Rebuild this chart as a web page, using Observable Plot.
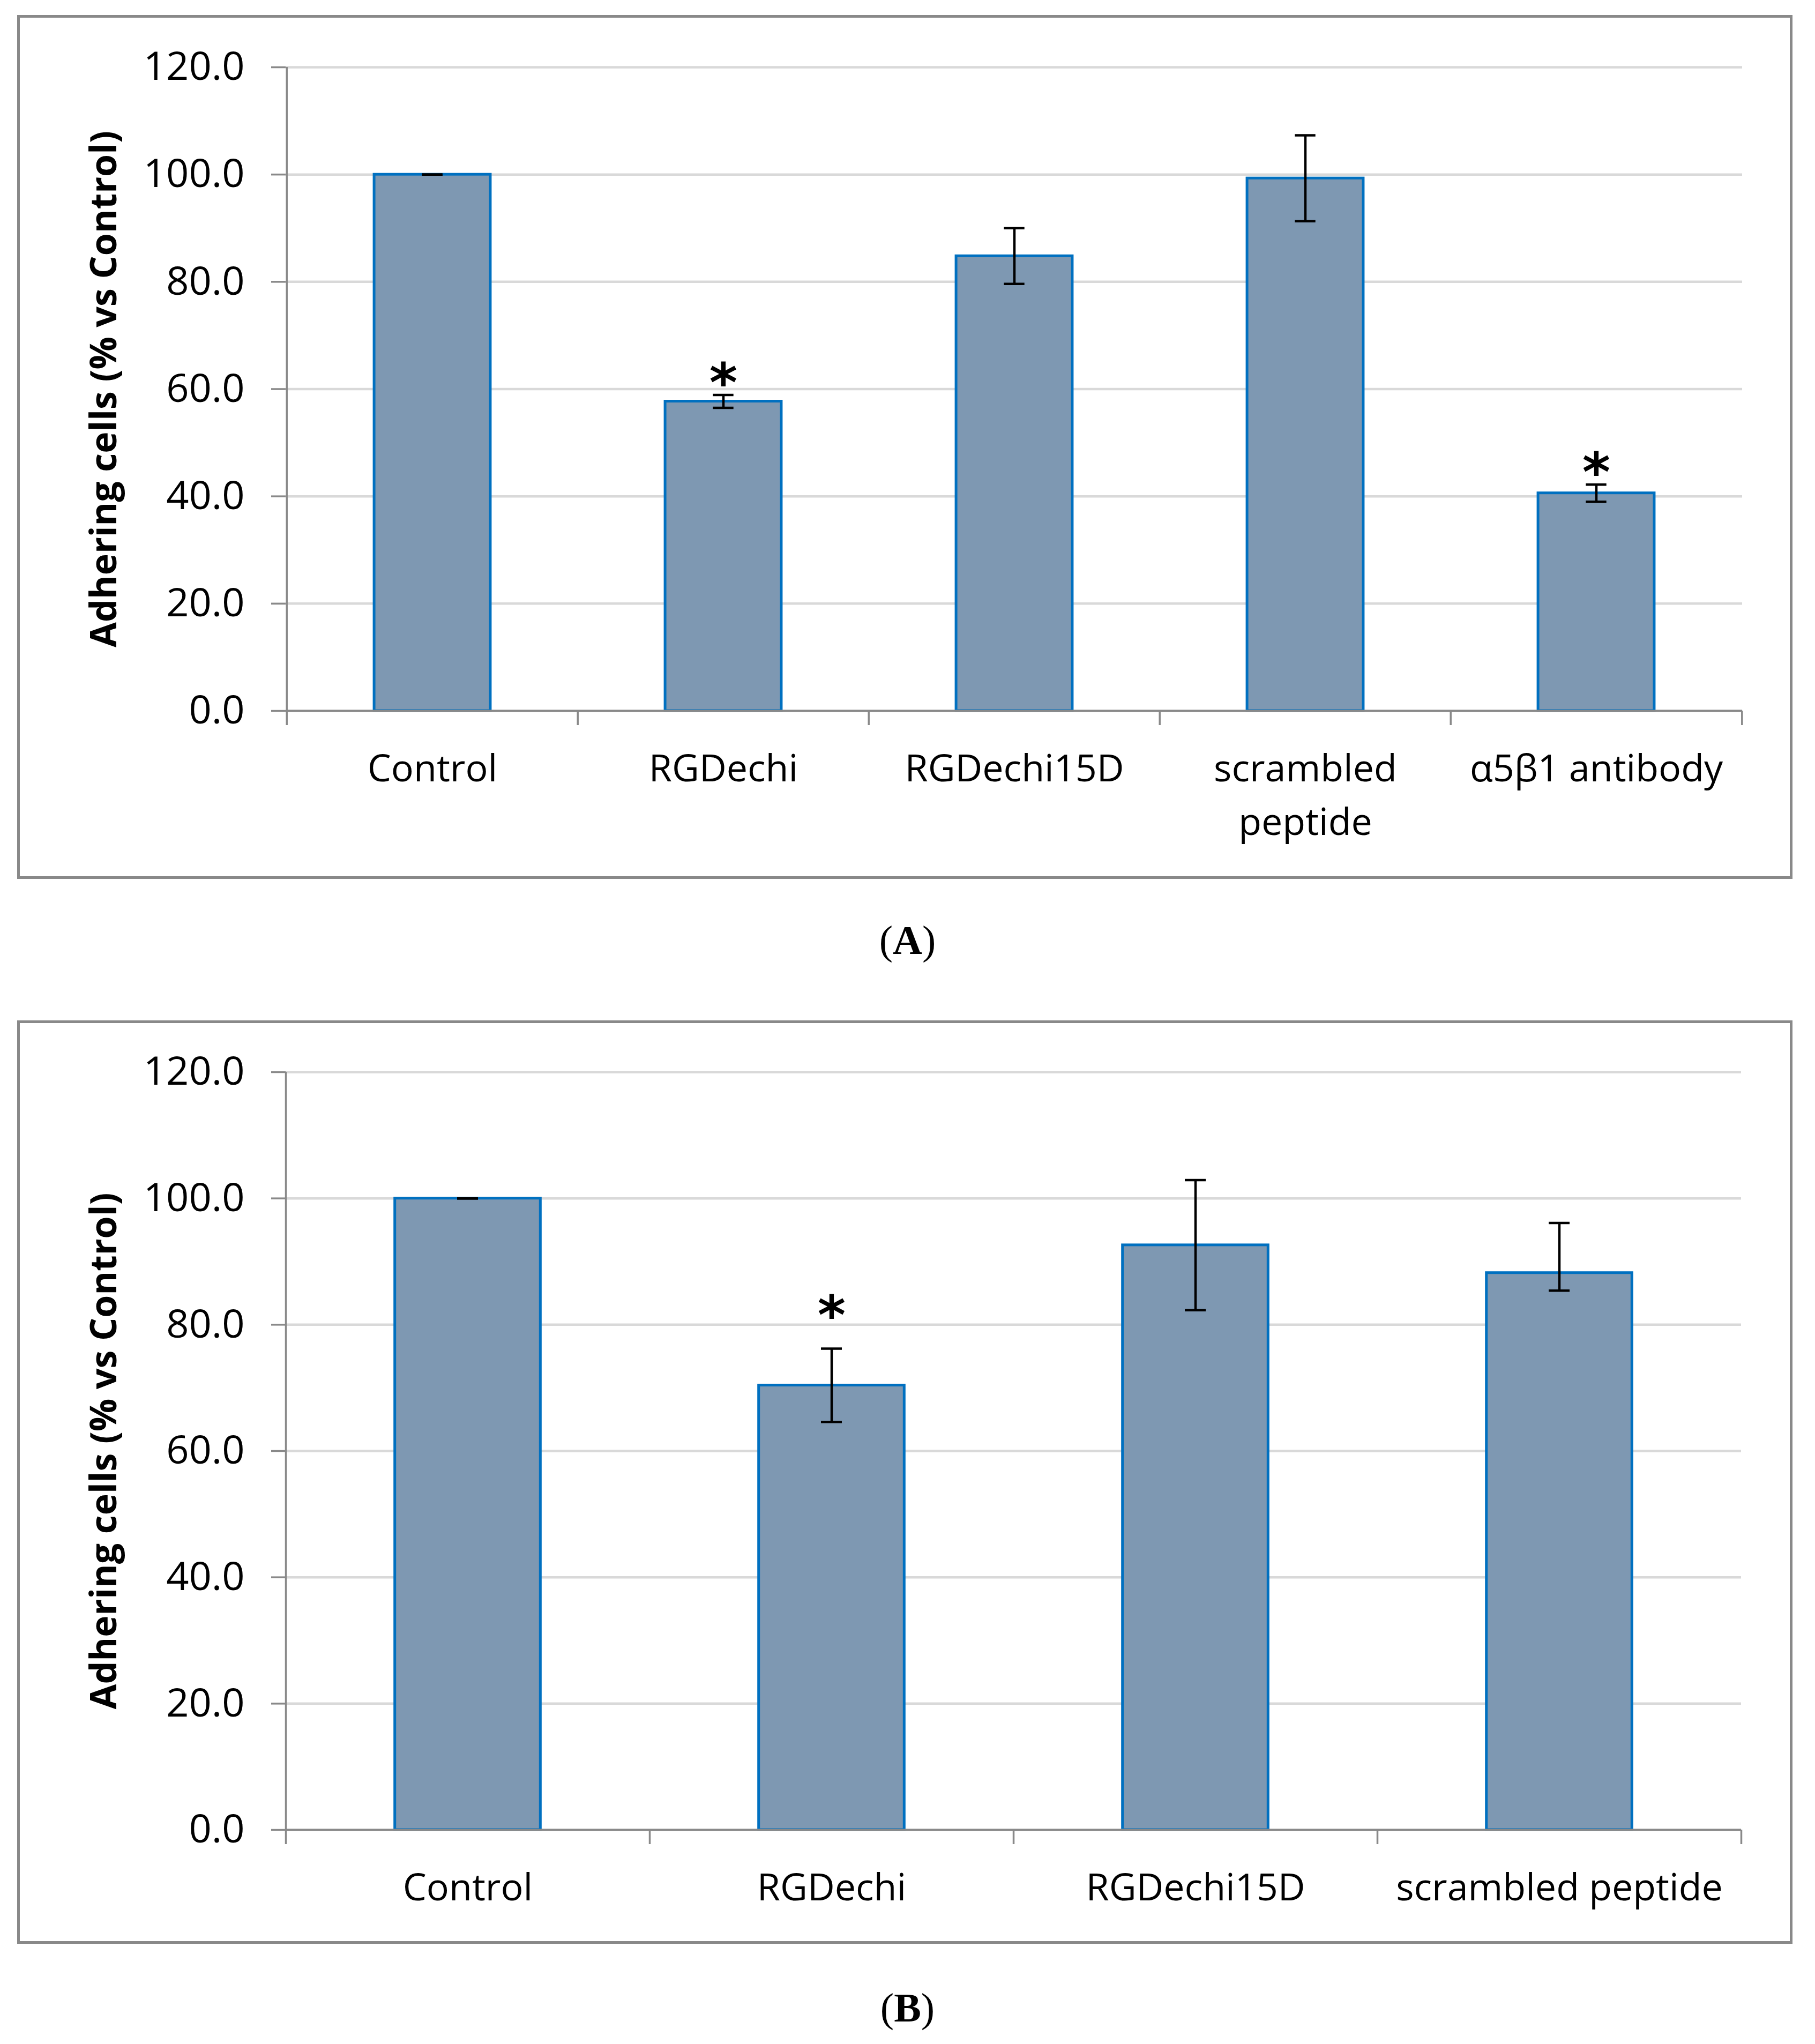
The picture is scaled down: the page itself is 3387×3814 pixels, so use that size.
<!DOCTYPE html>
<html>
<head>
<meta charset="utf-8">
<script src="https://cdn.jsdelivr.net/npm/d3@7"></script>
<script src="https://cdn.jsdelivr.net/npm/@observablehq/plot@0.6"></script>
<style>
  html, body { margin: 0; padding: 0; background: #fff; }
  body { width: 3387px; height: 3814px; position: relative; overflow: hidden; }
  .panel { position: absolute; }
  .frame { position: absolute; box-sizing: border-box; border: 5px solid #898989; pointer-events: none; }
  .caption { position: absolute; left: 0; width: 3387px; text-align: center;
             font-family: "Liberation Serif", serif; font-size: 76px; line-height: 76px; color: #000; }
</style>
</head>
<body>
<div id="plotA" class="panel" style="left:35px; top:31px;"></div>
<div class="frame" style="left:32px; top:28px; width:3313px; height:1612px;"></div>
<div class="caption" style="top:1716px;">(<b>A</b>)</div>

<div id="plotB" class="panel" style="left:35px; top:1907px;"></div>
<div class="frame" style="left:32px; top:1904px; width:3313px; height:1723px;"></div>
<div class="caption" style="top:3708px;">(<b>B</b>)</div>

<script>
// ---------- data ----------
const yTitle = "Adhering cells (% vs Control)";
const yTicks = [0, 20, 40, 60, 80, 100, 120];

// Panel A
const catsA = ["Control", "RGDechi", "RGDechi15D", "scrambled\npeptide", "α5β1 antibody"];
const meanA = [100.0, 57.7, 84.8, 99.3, 40.6];
const errLoA = [0, 1.2, 5.2, 8.0, 1.6];
const errHiA = [0, 1.2, 5.2, 8.0, 1.6];
const starA = ["", "*", "", "", "*"];

// Panel B
const catsB = ["Control", "RGDechi", "RGDechi15D", "scrambled peptide"];
const meanB = [100.0, 70.4, 92.6, 88.2];
const errLoB = [0, 5.8, 10.3, 2.8];
const errHiB = [0, 5.8, 10.3, 7.9];
const starB = ["", "*", "", ""];

// ---------- chart builder ----------
function chart(cfg) {
  const {cats, mean, lo, hi, star, width, height, mt, mb, ml, mr, starDy} = cfg;
  const rows = cats.map((c, i) => ({cat: c, v: mean[i], y1: mean[i] - lo[i], y2: mean[i] + hi[i], star: star[i]}));
  const step = (width - ml - mr) / cats.length;
  const innerH = height - mt - mb;
  const axisGray = "#898989";
  const capInset = (step - 39) / 2;
  return Plot.plot({
    width, height,
    marginTop: mt, marginBottom: mb, marginLeft: ml, marginRight: mr,
    style: {fontFamily: "'Open Sans', sans-serif", fontSize: "70px", background: "transparent", color: "#000", overflow: "visible"},
    x: {domain: cats, padding: 0, label: null},
    y: {domain: [0, 120], label: null},
    marks: [
      Plot.gridY(yTicks, {stroke: "#d9d9d9", strokeOpacity: 1, strokeWidth: 4.5}),
      Plot.barY(rows, {x: "cat", y: "v", fill: "#7e98b2", stroke: "#0070c0", strokeWidth: 5,
                       insetLeft: step * 0.3, insetRight: step * 0.3}),
      Plot.ruleY([0], {stroke: axisGray, strokeWidth: 4}),
      // y-axis line (extends down as first category tick)
      Plot.ruleX([cats[0]], {x: d => d, dx: -step / 2, stroke: axisGray, strokeWidth: 3.5, insetBottom: -27}),
      // category boundary ticks
      Plot.ruleX(cats.slice(1), {x: d => d, dx: -step / 2, stroke: axisGray, strokeWidth: 3.5, insetTop: innerH, insetBottom: -27}),
      Plot.ruleX([cats[cats.length - 1]], {x: d => d, dx: step / 2, stroke: axisGray, strokeWidth: 3.5, insetTop: innerH, insetBottom: -27}),
      Plot.axisY({ticks: yTicks, tickFormat: d3.format(".1f"), tickSize: 27, tickPadding: 50,
                  stroke: axisGray, strokeWidth: 3.5, fill: "#000", fontSize: 74, label: null}),
      Plot.axisX({tickSize: 0, tickPadding: 60, lineHeight: 1.43, fill: "#000", fontSize: 70, label: null}),
      // error bars
      Plot.ruleX(rows, {x: "cat", y1: "y1", y2: "y2", stroke: "#000", strokeWidth: 4.5}),
      Plot.tickY(rows, {x: "cat", y: "y1", stroke: "#000", strokeWidth: 4.5, insetLeft: capInset, insetRight: capInset}),
      Plot.tickY(rows, {x: "cat", y: "y2", stroke: "#000", strokeWidth: 4.5, insetLeft: capInset, insetRight: capInset}),
      // significance asterisks
      Plot.text(rows.filter(d => d.star), {x: "cat", y: "y2", text: "star", dy: starDy,
                fontFamily: "DejaVu Sans", fontWeight: "bold", fontSize: 100, fill: "#000"}),
      // y-axis title
      Plot.text([yTitle], {frameAnchor: "left", textAnchor: "middle", lineAnchor: "middle", rotate: -90, dx: -338, text: d => d,
                fontWeight: "bold", fontSize: 68, fill: "#000"})
    ]
  });
}

document.getElementById("plotA").appendChild(chart({
  cats: catsA, mean: meanA, lo: errLoA, hi: errHiA, star: starA,
  width: 3307, height: 1606, mt: 94, mb: 311, ml: 498, mr: 91, starDy: -20
}));
document.getElementById("plotB").appendChild(chart({
  cats: catsB, mean: meanB, lo: errLoB, hi: errHiB, star: starB,
  width: 3307, height: 1717, mt: 93, mb: 210, ml: 498, mr: 93, starDy: -60
}));
</script>
</body>
</html>
